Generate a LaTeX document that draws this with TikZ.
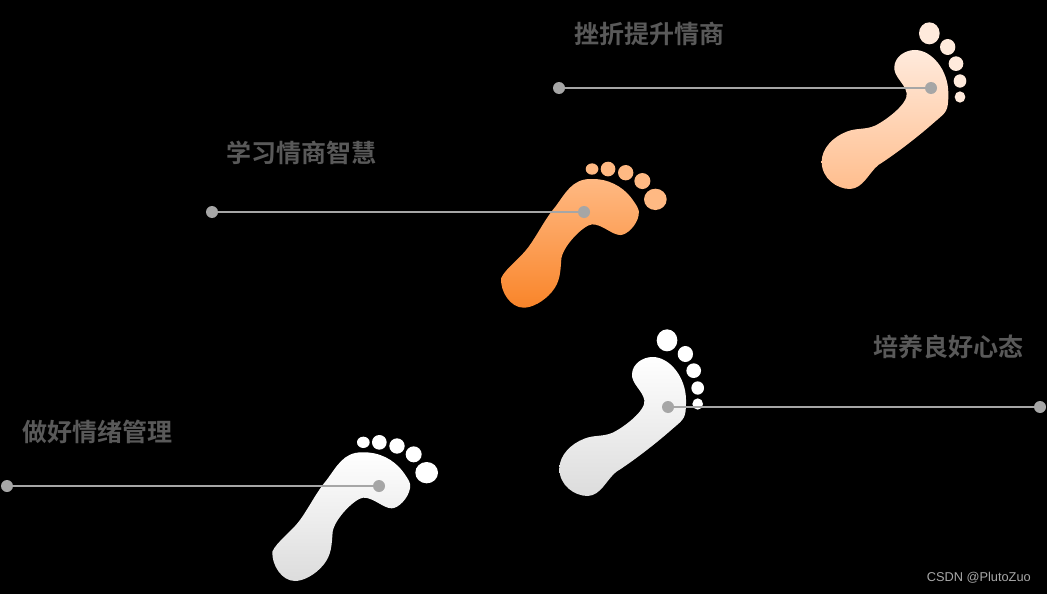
\documentclass[tikz,border=0pt]{standalone}
\usepackage{fontspec}
\newfontfamily\cjk{Noto Sans CJK SC}[BoldFont={* Bold}]
\setmainfont{Liberation Sans}
\usetikzlibrary{positioning}
\definecolor{dotgray}{HTML}{A6A6A6}
\definecolor{textgray}{HTML}{595959}
\definecolor{wmgray}{HTML}{A8A8A8}
\definecolor{orangetop}{HTML}{FFB983}
\definecolor{orangebot}{HTML}{F9852A}
\definecolor{peachtop}{HTML}{FFEADC}
\definecolor{peachbot}{HTML}{FFBE8E}
\definecolor{whitebot}{HTML}{DCDCDC}
\tikzset{
    dot/.style =    {circle,
                    fill=dotgray,
                    inner sep=0pt,
                    minimum size=12pt},
    endpt/.style =  {circle,
                    fill=dotgray,
                    inner sep=0pt,
                    minimum size=12pt},
    line/.style =   {draw=dotgray,
                    line width=1.7pt},
    steplabel/.style = {text=textgray,
                    font=\cjk\bfseries\fontsize{25}{27}\selectfont,
                    inner sep=0pt,
                    anchor=west},
    pics/footl/.style n args = {3}{code={
        \path[top color=#1,middle color=#2,bottom color=#3,scale=1/3]
            (37,395) .. controls (50,365) and (95,335) .. (120,300)
            .. controls (150,258) and (170,215) .. (200,180)
            .. controls (230,140) and (250,97) .. (305,97)
            .. controls (360,95) and (400,120) .. (425,150)
            .. controls (440,170) and (455,190) .. (450,205)
            .. controls (445,235) and (415,265) .. (395,265)
            .. controls (370,265) and (340,232) .. (310,233)
            .. controls (285,235) and (225,295) .. (218,335)
            .. controls (215,375) and (215,405) .. (190,435)
            .. controls (165,465) and (130,483) .. (105,483)
            .. controls (65,483) and (35,435) .. (37,395) -- cycle;
        \fill[#1,scale=1/3] (310,67) ellipse [x radius=19,y radius=17]
            (358,67) ellipse [x radius=22,y radius=22]
            (411,78) ellipse [x radius=23,y radius=23]
            (461,103) ellipse [x radius=24,y radius=24]
            (500,158) ellipse [x radius=34,y radius=32];
    }},
    pics/footr/.style n args = {3}{code={
        \path[top color=#1,middle color=#2,bottom color=#3,scale=1/3]
            (35,440) .. controls (35,400) and (70,365) .. (110,350)
            .. controls (140,338) and (165,345) .. (195,332)
            .. controls (230,315) and (295,265) .. (290,235)
            .. controls (285,205) and (250,185) .. (253,155)
            .. controls (255,125) and (285,105) .. (315,105)
            .. controls (365,105) and (415,165) .. (415,235)
            .. controls (415,290) and (410,290) .. (375,320)
            .. controls (330,360) and (260,415) .. (205,450)
            .. controls (175,475) and (160,520) .. (120,522)
            .. controls (80,522) and (35,490) .. (35,440) -- cycle;
        \fill[#1,scale=1/3] (358,55) ellipse [x radius=31,y radius=33]
            (413,96) ellipse [x radius=23,y radius=24]
            (438,146) ellipse [x radius=22,y radius=22]
            (450,198) ellipse [x radius=19,y radius=20]
            (450,246) ellipse [x radius=16,y radius=17];
    }},
}

\begin{document}
\begin{tikzpicture}[x=1pt,y=-1pt]
    \fill[black] (0,0) rectangle (1047,594);
    \useasboundingbox (0,0) rectangle (1047,594);

    % feet
    \pic at (260,420)     {footl={white}{white!92!whitebot}{whitebot}};
    \pic at (488.7,146.7) {footl={orangetop}{orangetop!80!orangebot}{orangebot}};
    \pic at (810,15)      {footr={peachtop}{peachtop!65!peachbot}{peachbot}};
    \pic at (547.7,322)   {footr={white}{white!92!whitebot}{whitebot}};

    % ends of the lines
    \node[endpt] (a0) at (7,486)    {};
    \node[dot]   (a1) at (379,486)  {};
    \node[endpt] (b0) at (212,212)  {};
    \node[dot]   (b1) at (584,212)  {};
    \node[endpt] (c0) at (559,88)   {};
    \node[dot]   (c1) at (931,88)   {};
    \node[endpt] (d0) at (1040,407) {};
    \node[dot]   (d1) at (668,407)  {};

    \path [line]    (a0) edge [] node [] {} (a1)
                    (b0) edge [] node [] {} (b1)
                    (c0) edge [] node [] {} (c1)
                    (d0) edge [] node [] {} (d1);

    \node[steplabel] (la) at (22,432)  {做好情绪管理};
    \node[steplabel] (lb) at (226,153) {学习情商智慧};
    \node[steplabel] (lc) at (574,34)  {挫折提升情商};
    \node[steplabel] (ld) at (873,347) {培养良好心态};
    \node[text=wmgray,font=\fontsize{12.8}{14}\selectfont,inner sep=0pt,anchor=east] (wm) at (1031,578) {CSDN @PlutoZuo};
\end{tikzpicture}
\end{document}
